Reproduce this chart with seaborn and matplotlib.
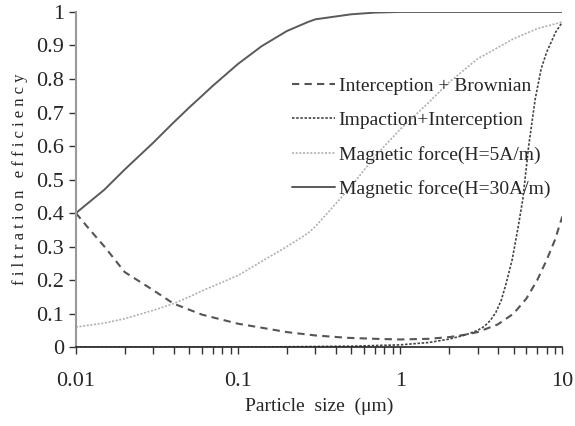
import numpy as np
import pandas as pd
import matplotlib
matplotlib.use("Agg")
import matplotlib.pyplot as plt
import seaborn as sns

sns.set_theme(style="white")
plt.rcParams["font.family"] = ["Liberation Serif", "DejaVu Serif"]

# particle size (um) and efficiencies
size_ib = [0.01, 0.012, 0.015, 0.02, 0.03, 0.04, 0.06, 0.1, 0.14, 0.2, 0.3, 0.47, 0.7, 1,
           1.5, 2, 2.5, 3, 4, 5, 6, 7, 8, 9, 10]
interception_brownian = [0.40, 0.354, 0.30, 0.224, 0.17, 0.13, 0.097, 0.07, 0.058, 0.045, 0.035,
                         0.028, 0.025, 0.023, 0.025, 0.03, 0.037, 0.045, 0.068, 0.10, 0.145,
                         0.20, 0.26, 0.32, 0.39]

size_ii = [0.01, 0.1, 0.5, 1, 1.5, 2, 2.5, 3, 3.3, 3.6, 3.9, 4.2, 4.5, 4.9, 5.3, 5.7,
           6.2, 6.8, 7.4, 8, 9.1, 10]
impaction_interception = [0.0, 0.0, 0.003, 0.007, 0.014, 0.024, 0.036, 0.05, 0.062, 0.08,
                          0.105, 0.14, 0.19, 0.26, 0.35, 0.44, 0.60, 0.74, 0.83, 0.88,
                          0.94, 0.97]

size_mag = [0.01, 0.015, 0.02, 0.03, 0.04, 0.05, 0.06, 0.07, 0.1, 0.14, 0.2, 0.27, 0.3, 0.5,
            0.7, 1, 1.5, 2, 3, 5, 7, 10]
magnetic_5 = [0.06, 0.072, 0.085, 0.11, 0.13, 0.15, 0.168, 0.182, 0.214, 0.256, 0.30, 0.34,
              0.36, 0.48, 0.57, 0.65, 0.73, 0.79, 0.86, 0.92, 0.95, 0.97]
magnetic_30 = [0.40, 0.47, 0.53, 0.61, 0.67, 0.715, 0.75, 0.78, 0.845, 0.898, 0.943, 0.97,
               0.978, 0.993, 0.998, 1.0, 1.0, 1.0, 1.0, 1.0, 1.0, 1.0]

fig, ax = plt.subplots(figsize=(5.75, 4.26), dpi=100)

sns.lineplot(x=size_ib, y=interception_brownian, ax=ax, color="#555555",
             linestyle=(0, (3.5, 2.5)), linewidth=1.5, label="Interception + Brownian")
sns.lineplot(x=size_ii, y=impaction_interception, ax=ax, color="#444444",
             linestyle=(0, (1.5, 1)), linewidth=1.2, label="Impaction+Interception")
sns.lineplot(x=size_mag, y=magnetic_5, ax=ax, color="#b0b0b0",
             linestyle=(0, (1.2, 1)), linewidth=1.2, label="Magnetic force(H=5A/m)")
sns.lineplot(x=size_mag, y=magnetic_30, ax=ax, color="#5a5a5a",
             linestyle="-", linewidth=1.4, label="Magnetic force(H=30A/m)")

ax.set_xscale("log")
ax.set_xlim(0.01, 10)
ax.set_ylim(0, 1)
ax.set_yticks(np.arange(0, 1.01, 0.1))
ax.set_yticklabels(["0", "0.1", "0.2", "0.3", "0.4", "0.5", "0.6", "0.7", "0.8", "0.9", "1"])
ax.set_xticks([0.01, 0.1, 1, 10])
ax.set_xticklabels(["0.01", "0.1", "1", "10"])
ax.tick_params(axis="both", labelsize=16, direction="out", length=5, width=1,
               bottom=True, left=True, color="#333333")
ax.tick_params(axis="x", which="minor", direction="out", length=5, width=1,
               bottom=True, color="#333333")
ax.tick_params(axis="x", pad=13)

for side in ["top", "right"]:
    ax.spines[side].set_visible(False)
ax.spines["left"].set_color("#999999")
ax.spines["left"].set_linewidth(1.5)
ax.spines["bottom"].set_color("#222222")
ax.spines["bottom"].set_linewidth(1.2)

ax.set_xlabel("Particle  size  (\u03bcm)", fontsize=14, labelpad=5)
ax.set_ylabel("f i l t r a t i o n   e f f i c i e n c y", fontsize=12, labelpad=6)

leg = ax.legend(loc="upper left", bbox_to_anchor=(0.408, 0.857), frameon=False,
                fontsize=14, handlelength=2.2, handletextpad=0.2, labelspacing=0.85)

fig.subplots_adjust(left=0.132, right=0.978, top=0.972, bottom=0.185)
fig.savefig("out.png", dpi=100)
